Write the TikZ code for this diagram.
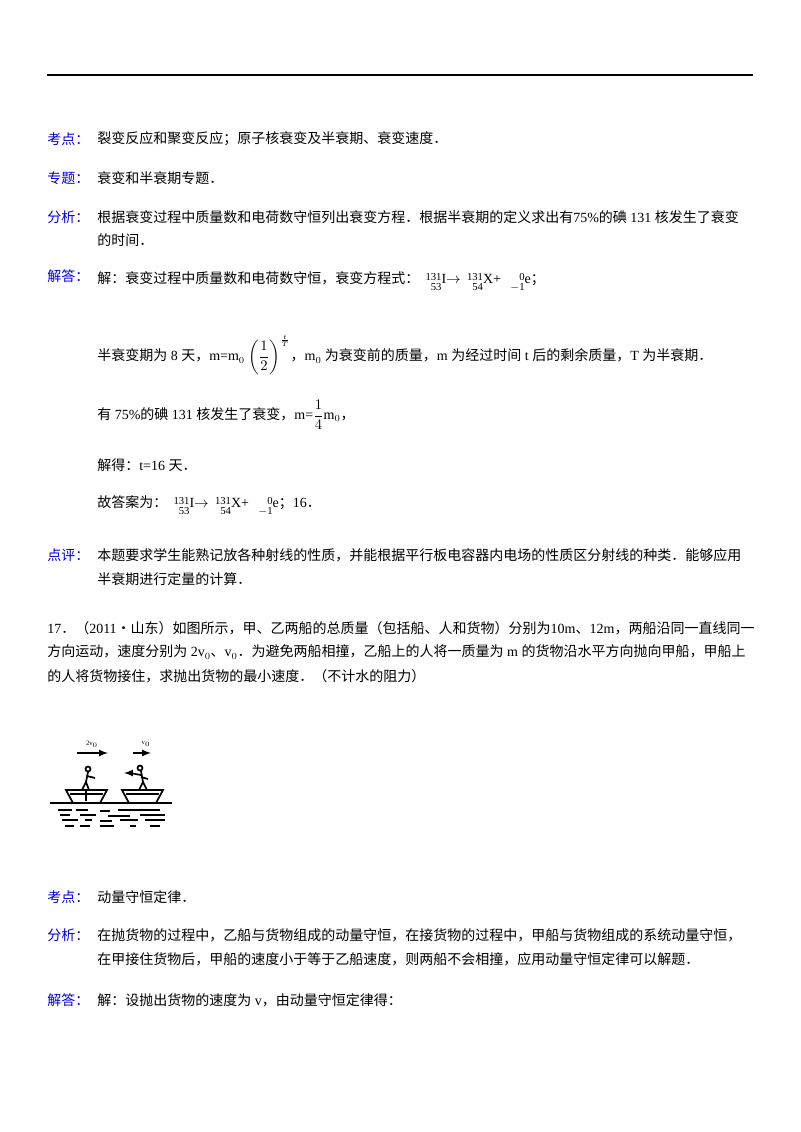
\documentclass[tikz,border=0pt]{standalone}
\usepackage{amsmath}
\usepackage{fontspec}
\setmainfont{Noto Sans CJK SC}
\newfontfamily\lat{Liberation Serif}
\newcommand\nucl[3]{\raisebox{-0.5em}{\lat\footnotesize\begin{tabular}[b]{@{}r@{}}#1\\[-2pt]#2\end{tabular}}{\lat #3}}
\newcommand\decayeq{\nucl{131}{53}{I}$\rightarrow$\ \ \nucl{131}{54}{X+}\ \ \ \nucl{0}{$-$1}{e}}
\begin{document}
\begin{tikzpicture}[x=0.75pt,y=-0.75pt,
  lab/.style={anchor=west,text=blue!85!black,font=\fontsize{10.5}{12}\selectfont,inner sep=0},
  txt/.style={anchor=west,font=\fontsize{10.5}{12}\selectfont,inner sep=0}]
\useasboundingbox (0,0) rectangle (800,1132);
\draw[line width=0.8pt] (47,75) -- (753,75);
\node[lab] (k1) at (47,139) {考点：};
\node[txt] (k1t) at (97,139) {裂变反应和聚变反应；原子核衰变及半衰期、衰变速度．};
\node[lab] (z1) at (47,178) {专题：};
\node[txt] (z1t) at (97,178) {衰变和半衰期专题．};
\node[lab] (f1) at (47,217) {分析：};
\node[txt] (f1t) at (97,217) {根据衰变过程中质量数和电荷数守恒列出衰变方程．根据半衰期的定义求出有{\lat 75\%}的碘{\lat\ 131\ }核发生了衰变};
\node[txt] (f1u) at (97,240) {的时间．};
\node[lab] (j1) at (47,276) {解答：};
\node[txt] (j1t) at (97,283) {解：衰变过程中质量数和电荷数守恒，衰变方程式：\ \ \decayeq；};
\node[txt] (j2) at (97,355) {半衰变期为{\lat\ 8\ }天，{\lat m=m$_0$} $\left(\dfrac{1}{2}\right)^{\frac{t}{T}}$，{\lat m$_0$\ }为衰变前的质量，{\lat m\ }为经过时间{\lat\ t\ }后的剩余质量，{\lat T\ }为半衰期．};
\node[txt] (j3) at (97,415) {有{\lat\ 75\%}的碘{\lat\ 131\ }核发生了衰变，{\lat m=}$\dfrac{1}{4}${\lat m$_0$}，};
\node[txt] (j4) at (97,465) {解得：{\lat t=16\ }天．};
\node[txt] (j5) at (97,507) {故答案为：\ \ \decayeq；{\lat 16}．};
\node[lab] (d1) at (47,555) {点评：};
\node[txt] (d1t) at (97,555) {本题要求学生能熟记放各种射线的性质，并能根据平行板电容器内电场的性质区分射线的种类．能够应用};
\node[txt] (d1u) at (97,579) {半衰期进行定量的计算．};
\node[txt] (q1) at (47,628) {{\lat 17}．（{\lat 2011}•山东）如图所示，甲、乙两船的总质量（包括船、人和货物）分别为{\lat 10m}、{\lat 12m}，两船沿同一直线同一};
\node[txt] (q2) at (47,652) {方向运动，速度分别为{\lat\ 2v$_0$}、{\lat v$_0$}．为避免两船相撞，乙船上的人将一质量为{\lat\ m\ }的货物沿水平方向抛向甲船，甲船上};
\node[txt] (q3) at (47,676) {的人将货物接住，求抛出货物的最小速度．（不计水的阻力）};
% figure
\begin{scope}[line width=1.3pt]
\draw (50,803) -- (172,803);
\draw (66,790) -- (107,790) -- (100,803) -- (73,803) -- cycle;
\draw (70,794) -- (103,794);
\draw (122,790) -- (163,790) -- (156,803) -- (129,803) -- cycle;
\draw (126,794) -- (159,794);
\draw[-latex] (77,753) -- (108,753);
\draw[-latex] (133,753) -- (151,753);
\node[font=\tiny\lat] (l1) at (92,744) {2v$_{\scriptscriptstyle0}$};
\node[font=\tiny\lat] (l2) at (146,744) {v$_{\scriptscriptstyle0}$};
% person 1
\draw (88,769) circle (2.5);
\draw (88,772) -- (86,782) -- (82,790); \draw (86,782) -- (89,790);
\draw (87,776) -- (95,778);
\draw[line width=2pt] (86,790) -- (86,801);
% person 2
\draw (140,768) circle (2.5);
\draw (141,771) -- (143,782) -- (139,790); \draw (143,782) -- (147,790);
\draw (141,775) -- (130,773); \draw[-latex] (132,773) -- (124,773);
\draw (141,777) -- (148,779);
\end{scope}
\begin{scope}[line width=1pt]
\foreach \a/\b/\y in {58/72/810,76/88/810,100/110/811,118/160/810,60/70/815,80/96/815,108/130/816,140/165/815,62/78/820,85/92/820,100/112/821,120/138/820,145/165/820,65/74/826,80/90/826,100/114/826,130/136/826,150/160/826}
  \draw (\a,\y) -- (\b,\y);
\end{scope}
\node[lab] (k2) at (47,897) {考点：};
\node[txt] (k2t) at (97,897) {动量守恒定律．};
\node[lab] (f2) at (47,935) {分析：};
\node[txt] (f2t) at (97,935) {在抛货物的过程中，乙船与货物组成的动量守恒，在接货物的过程中，甲船与货物组成的系统动量守恒，};
\node[txt] (f2u) at (97,959) {在甲接住货物后，甲船的速度小于等于乙船速度，则两船不会相撞，应用动量守恒定律可以解题．};
\node[lab] (j6) at (47,1000) {解答：};
\node[txt] (j6t) at (97,1000) {解：设抛出货物的速度为{\lat\ v}，由动量守恒定律得：};
\end{tikzpicture}
\end{document}
